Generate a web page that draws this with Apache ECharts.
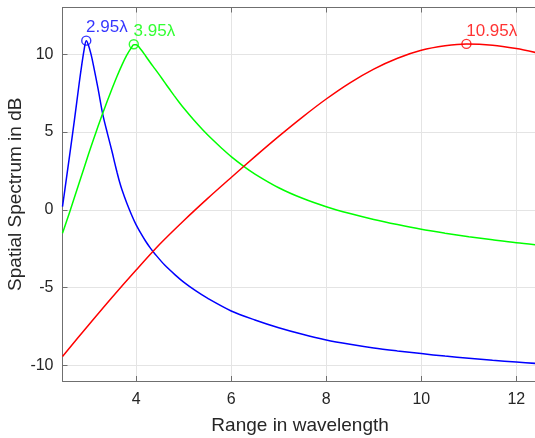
<!DOCTYPE html>
<html>
<head>
<meta charset="utf-8">
<script src="https://cdn.jsdelivr.net/npm/echarts@6/dist/echarts.min.js"></script>
<style>
html,body{margin:0;padding:0;background:#fff;}
#chart{width:535px;height:438px;}
</style>
</head>
<body>
<div id="chart"></div>
<script>
// ---- data ----
var blueX = [2.45, 2.5, 2.6, 2.7, 2.8, 2.85, 2.9, 2.95, 3.0, 3.05, 3.1, 3.2, 3.3, 3.4, 3.5, 3.55, 3.6, 3.65, 3.7, 3.8, 3.9, 4.0, 4.1, 4.2, 4.3, 4.4, 4.6, 4.85, 5.0, 5.25, 5.5, 6.0, 6.5, 7.0, 7.5, 8.0, 8.5, 9.0, 9.5, 10, 10.5, 11, 11.5, 12, 12.45];
var blueY = [0.2, 1.3, 3.5, 5.75, 8.1, 9.2, 10.2, 10.87, 10.55, 10.0, 9.3, 7.75, 6.1, 4.85, 3.65, 3.0, 2.38, 1.8, 1.3, 0.45, -0.3, -0.97, -1.52, -2.02, -2.46, -2.85, -3.55, -4.26, -4.65, -5.2, -5.68, -6.5, -7.08, -7.58, -8.0, -8.36, -8.64, -8.88, -9.07, -9.24, -9.4, -9.54, -9.67, -9.78, -9.88];

var greenX = [2.45, 2.6, 2.8, 3.0, 3.1, 3.2, 3.3, 3.4, 3.5, 3.6, 3.7, 3.8, 3.9, 3.95, 4.0, 4.1, 4.2, 4.3, 4.4, 4.5, 4.6, 4.7, 4.8, 4.9, 5.0, 5.2, 5.4, 5.6, 5.8, 6.0, 6.25, 6.5, 7.0, 7.5, 8.0, 8.5, 9.0, 9.5, 10, 10.5, 11, 11.5, 12, 12.45];
var greenY = [-1.5, -0.15, 1.72, 3.6, 4.5, 5.38, 6.23, 7.05, 7.84, 8.6, 9.3, 9.92, 10.42, 10.6, 10.6, 10.3, 9.88, 9.45, 9.04, 8.62, 8.19, 7.76, 7.34, 6.93, 6.54, 5.82, 5.15, 4.53, 3.96, 3.42, 2.83, 2.3, 1.42, 0.74, 0.2, -0.24, -0.62, -0.95, -1.25, -1.5, -1.73, -1.93, -2.12, -2.26];

var redX = [2.45, 3.0, 3.5, 4.0, 4.5, 5.0, 5.5, 6.0, 6.5, 7.0, 7.5, 8.0, 8.5, 9.0, 9.5, 10, 10.5, 10.95, 11.5, 12, 12.45];
var redY = [-9.42, -7.4, -5.6, -3.87, -2.2, -0.7, 0.72, 2.08, 3.42, 4.72, 5.96, 7.12, 8.16, 9.04, 9.74, 10.25, 10.54, 10.66, 10.58, 10.36, 10.08];

var peakX = [2.95, 3.95, 10.95];
var peakY = [10.87, 10.64, 10.66];
var peakLabels = ['2.95\u03bb', '3.95\u03bb', '10.95\u03bb'];
var colors = ['#0000ff', '#00ff00', '#ff0000'];

var xTickLabels = [4, 6, 8, 10, 12];
var yTickLabels = [-10, -5, 0, 5, 10];

function pairs(xs, ys) { return xs.map(function (x, i) { return [x, ys[i]]; }); }

var FONT = '"Liberation Sans", Arial, sans-serif';
var axisCol = '#6f6f6f';
var gridCol = '#e4e4e4';

var chart = echarts.init(document.getElementById('chart'), null, {renderer: 'canvas'});

function xLab(v) { return xTickLabels.indexOf(Math.round(v * 1000) / 1000) >= 0 ? String(v) : ''; }
function yLab(v) { return yTickLabels.indexOf(Math.round(v * 1000) / 1000) >= 0 ? String(v) : ''; }

var lineSeries = [[blueX, blueY], [greenX, greenY], [redX, redY]].map(function (s, i) {
  return {
    type: 'line', data: pairs(s[0], s[1]), showSymbol: false, smooth: 0.3,
    lineStyle: {color: colors[i], width: 1.5}, silent: true, animation: false, z: 2
  };
});

var peakSeries = peakX.map(function (x, i) {
  return {
    type: 'scatter', data: [[x, peakY[i]]], symbol: 'circle', symbolSize: 9,
    itemStyle: {color: 'rgba(0,0,0,0)', borderColor: colors[i], borderWidth: 1.4},
    label: {
      show: true, formatter: peakLabels[i], position: [5, 0.8], align: 'left', verticalAlign: 'bottom',
      color: colors[i], fontFamily: FONT, fontSize: 17
    },
    animation: false, z: 3
  };
});

chart.setOption({
  backgroundColor: '#ffffff',
  animation: false,
  grid: {left: 62.5, top: 7.5, right: -2.7, bottom: 57, containLabel: false, outerBoundsMode: 'none'},
  xAxis: [{
    type: 'value', min: 2.45, max: 12.45, splitNumber: 5,
    name: 'Range in wavelength', nameLocation: 'middle', nameGap: 35, nameMoveOverlap: false,
    nameTextStyle: {fontFamily: FONT, fontSize: 19, color: '#262626'},
    axisLine: {show: true, onZero: false, lineStyle: {color: axisCol, width: 1}},
    axisTick: {show: true, inside: true, length: 5, lineStyle: {color: axisCol}},
    axisLabel: {formatter: xLab, fontFamily: FONT, fontSize: 16, color: '#262626', margin: 11, showMinLabel: false, showMaxLabel: false},
    splitLine: {show: true, lineStyle: {color: gridCol, width: 1}}
  }, {
    type: 'value', position: 'top', min: 2.45, max: 12.45, splitNumber: 5,
    axisLine: {show: true, onZero: false, lineStyle: {color: axisCol, width: 1}},
    axisTick: {show: true, inside: true, length: 5, lineStyle: {color: axisCol}},
    axisLabel: {show: false}, splitLine: {show: false}
  }],
  yAxis: [{
    type: 'value', min: -11, max: 13, splitNumber: 5,
    name: 'Spatial Spectrum in dB', nameLocation: 'middle', nameGap: 37, nameRotate: 90, nameMoveOverlap: false,
    nameTextStyle: {fontFamily: FONT, fontSize: 19, color: '#262626'},
    axisLine: {show: true, onZero: false, lineStyle: {color: axisCol, width: 1}},
    axisTick: {show: true, inside: true, length: 5, lineStyle: {color: axisCol}},
    axisLabel: {formatter: yLab, fontFamily: FONT, fontSize: 16, color: '#262626', margin: 9, showMinLabel: false, showMaxLabel: false},
    splitLine: {show: true, lineStyle: {color: gridCol, width: 1}}
  }],
  series: lineSeries.concat(peakSeries)
});
</script>
</body>
</html>
